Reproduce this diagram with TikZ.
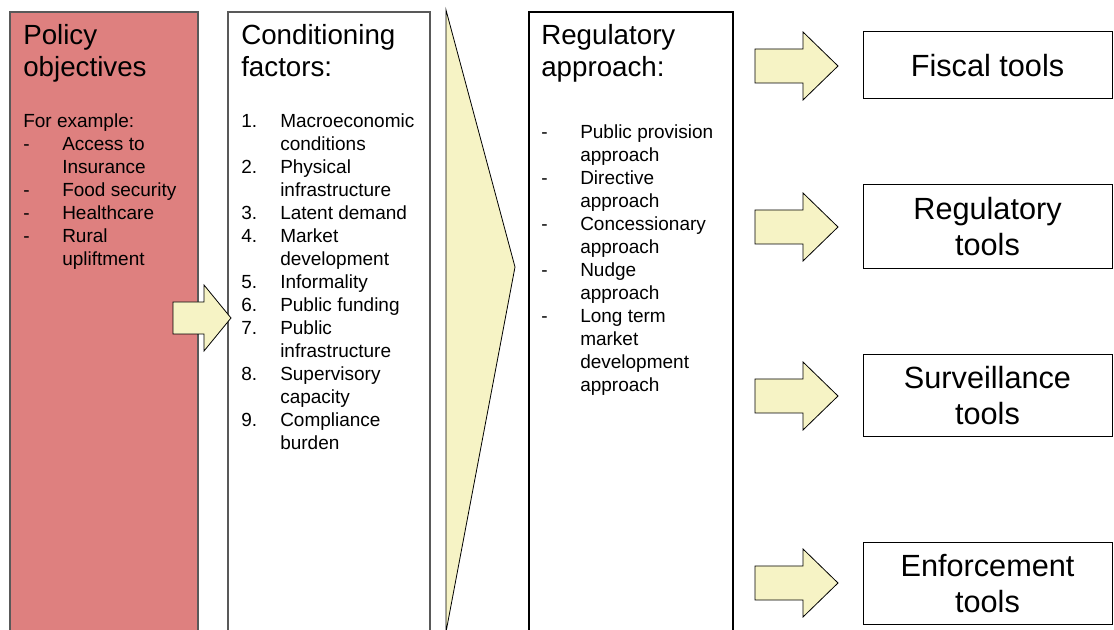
\documentclass[tikz,border=0pt]{standalone}
\usepackage{fontspec}
\setmainfont{Liberation Sans}

\definecolor{policyred}{HTML}{DE807F}
\definecolor{arrowyellow}{HTML}{F6F3C5}
\definecolor{edgegray}{HTML}{595959}

\tikzset{
	titletext/.style={anchor=north west,inner sep=0pt,align=left,
		font=\fontsize{20.8}{24}\selectfont},
	listtext/.style={anchor=north west,inner sep=0pt,
		font=\fontsize{14.25}{17.25}\selectfont},
	toolbox/.style={draw=black,line width=0.75pt,align=center,
		minimum width=186.75pt,font=\fontsize{23}{27}\selectfont},
	blockarrow/.style={draw=black,line width=0.6pt,fill=arrowyellow}
}

\begin{document}
\begin{tikzpicture}[x=0.75pt,y=-0.75pt]
	\useasboundingbox (0,0) rectangle (1114,630);
	\clip (0,0) rectangle (1114,630);
	
	% columns
	\draw[edgegray][line width=1.1pt][fill=policyred](10,12) rectangle (198,640);
	\draw[edgegray][line width=1.5pt](228,12) rectangle (430,640);
	\draw[black][line width=0.8pt](529,12) rectangle (733,640);
	
	% arrow into the conditioning factors
	\draw[blockarrow](173,302)--(204,302)--(204,285)--(231,318)
	--(204,351)--(204,334)--(173,334)--cycle;
	
	% big chevron
	\draw[black][line width=0.6pt][fill=arrowyellow](446,10)--(515,267)--(446,632)--cycle;
	
	\node[titletext] (poltitle) at (23,24) {Policy\\objectives};
	\node[listtext] (pollist) at (23,111) {%
		\begin{tabular}{@{}p{29.25pt}@{}l@{}}
			\multicolumn{2}{@{}l@{}}{For example:}\\
			- & Access to\\
			  & Insurance\\
			- & Food security\\
			- & Healthcare\\
			- & Rural\\
			  & upliftment
	\end{tabular}};
	
	\node[titletext] (contitle) at (241,24) {Conditioning\\factors:};
	\node[listtext] (conlist) at (241,111) {%
		\begin{tabular}{@{}p{29.25pt}@{}l@{}}
			1. & Macroeconomic\\
			   & conditions\\
			2. & Physical\\
			   & infrastructure\\
			3. & Latent demand\\
			4. & Market\\
			   & development\\
			5. & Informality\\
			6. & Public funding\\
			7. & Public\\
			   & infrastructure\\
			8. & Supervisory\\
			   & capacity\\
			9. & Compliance\\
			   & burden
	\end{tabular}};
	
	\node[titletext] (regtitle) at (541,24) {Regulatory\\approach:};
	\node[listtext] (reglist) at (541,122) {%
		\begin{tabular}{@{}p{29.25pt}@{}l@{}}
			- & Public provision\\
			  & approach\\
			- & Directive\\
			  & approach\\
			- & Concessionary\\
			  & approach\\
			- & Nudge\\
			  & approach\\
			- & Long term\\
			  & market\\
			  & development\\
			  & approach
	\end{tabular}};
	
	% tools
	\draw[blockarrow](755,49)--(803,49)--(803,32)--(838,66)
	--(803,100)--(803,83)--(755,83)--cycle;
	\draw[blockarrow](755,210)--(803,210)--(803,193)--(838,227)
	--(803,261)--(803,244)--(755,244)--cycle;
	\draw[blockarrow](755,379)--(803,379)--(803,362)--(838,396)
	--(803,430)--(803,413)--(755,413)--cycle;
	\draw[blockarrow](755,566)--(803,566)--(803,549)--(838,583)
	--(803,617)--(803,600)--(755,600)--cycle;
	
	\node[toolbox,minimum height=50.25pt] (fiscal) at (987.5,65.5) {Fiscal tools};
	\node[toolbox,minimum height=63pt] (regtools) at (987.5,227) {Regulatory\\tools};
	\node[toolbox,minimum height=61.5pt] (survtools) at (987.5,396) {Surveillance\\tools};
	\node[toolbox,minimum height=60.75pt] (enftools) at (987.5,583.5) {Enforcement\\tools};
\end{tikzpicture}
\end{document}
